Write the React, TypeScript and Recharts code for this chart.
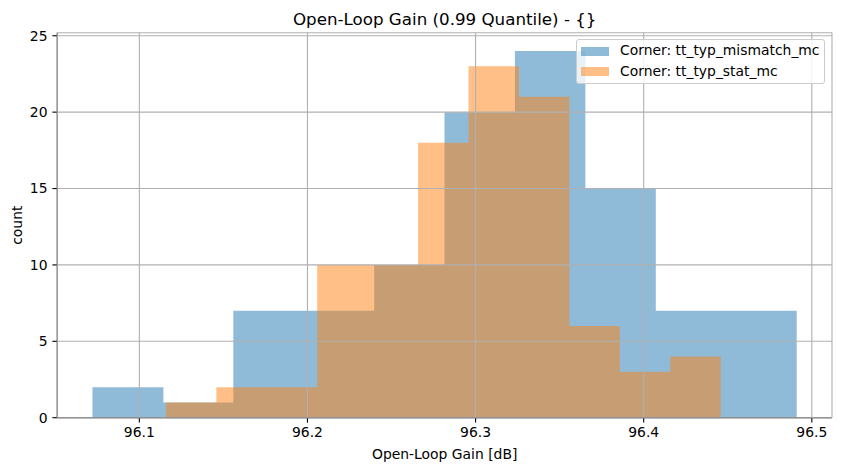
import React from 'react';
import { ComposedChart, Area, XAxis, YAxis, CartesianGrid, Legend } from 'recharts';

// Histogram bin edges (dB) and counts
const mismatchEdges = [96.0721, 96.1143, 96.1559, 96.1978, 96.2397, 96.2815, 96.3234, 96.3653, 96.4072, 96.4491, 96.491];
const mismatchCounts = [2, 1, 7, 7, 10, 20, 24, 15, 7, 7];
const statEdges = [96.1158, 96.1458, 96.1758, 96.2058, 96.2358, 96.2658, 96.2958, 96.3258, 96.3558, 96.3858, 96.4158, 96.4458];
const statCounts = [1, 2, 2, 10, 10, 18, 23, 21, 6, 3, 4];
const xTicks = [96.1, 96.2, 96.3, 96.4, 96.5];
const yTicks = [0, 5, 10, 15, 20, 25];
const seriesNames = ['Corner: tt_typ_mismatch_mc', 'Corner: tt_typ_stat_mc'];
const seriesColors = ['#1f77b4', '#ff7f0e'];
const titleText = 'Open-Loop Gain (0.99 Quantile) - {}';
const xLabel = 'Open-Loop Gain [dB]';
const yLabel = 'count';

const xDomain: [number, number] = [96.0512, 96.512];
const yDomain: [number, number] = [0, 25.2];

function toSteps(edges: number[], counts: number[]) {
  return edges.map((x, i) => ({ x, count: counts[Math.min(i, counts.length - 1)] }));
}

const mismatchData = toSteps(mismatchEdges, mismatchCounts);
const statData = toSteps(statEdges, statCounts);

const FONT = 'DejaVu Sans';
const FS = 13.9;
const LW = 1.1;

function LegendBox() {
  return (
    <div
      style={{
        position: 'relative',
        width: 249.3,
        height: 45,
        boxSizing: 'border-box',
        background: 'rgba(255,255,255,0.8)',
        border: '1px solid #cccccc',
        borderRadius: 3,
        fontFamily: FONT,
        fontSize: FS,
        lineHeight: `${FS}px`,
        color: '#000',
      }}
    >
      {seriesNames.map((name, i) => (
        <React.Fragment key={name}>
          <div
            style={{
              position: 'absolute',
              left: 4,
              top: 6.4 + i * 20.7,
              width: 28.3,
              height: 9,
              background: seriesColors[i],
              opacity: 0.5,
            }}
          />
          <div style={{ position: 'absolute', left: 43.3, top: 3.9 + i * 20.7, whiteSpace: 'nowrap' }}>{name}</div>
        </React.Fragment>
      ))}
    </div>
  );
}

export default function App() {
  return (
    <div style={{ position: 'absolute', left: 0, top: 0, width: 841, height: 470, background: '#fff' }}>
      <ComposedChart width={841} height={470} margin={{ top: 32.7, right: 9, bottom: 0, left: 0 }}>
        <XAxis
          xAxisId={0}
          type="number"
          dataKey="x"
          domain={xDomain}
          allowDataOverflow
          ticks={xTicks}
          tickFormatter={(v: number) => v.toFixed(1)}
          height={52.3}
          tickSize={4.9}
          tickMargin={4.9}
          axisLine={{ stroke: '#000', strokeWidth: LW }}
          tickLine={{ stroke: '#000', strokeWidth: LW }}
          tick={{ fill: '#000', fontSize: FS, fontFamily: FONT }}
        />
        <XAxis
          xAxisId="top"
          orientation="top"
          type="number"
          dataKey="x"
          domain={xDomain}
          allowDataOverflow
          height={0}
          tick={false}
          tickLine={false}
          axisLine={{ stroke: '#000', strokeWidth: LW }}
        />
        <YAxis
          yAxisId={0}
          type="number"
          domain={yDomain}
          allowDataOverflow
          ticks={yTicks}
          width={57.3}
          tickSize={4.9}
          tickMargin={4.9}
          axisLine={{ stroke: '#000', strokeWidth: LW }}
          tickLine={{ stroke: '#000', strokeWidth: LW }}
          tick={{ fill: '#000', fontSize: FS, fontFamily: FONT }}
        />
        <YAxis
          yAxisId="right"
          orientation="right"
          type="number"
          domain={yDomain}
          allowDataOverflow
          width={0}
          tick={false}
          tickLine={false}
          axisLine={{ stroke: '#000', strokeWidth: LW }}
        />
        <Area
          data={mismatchData}
          dataKey="count"
          name={seriesNames[0]}
          type="stepAfter"
          xAxisId={0}
          yAxisId={0}
          fill={seriesColors[0]}
          fillOpacity={0.5}
          stroke="none"
          dot={false}
          activeDot={false}
          isAnimationActive={false}
        />
        <Area
          data={statData}
          dataKey="count"
          name={seriesNames[1]}
          type="stepAfter"
          xAxisId={0}
          yAxisId={0}
          fill={seriesColors[1]}
          fillOpacity={0.5}
          stroke="none"
          dot={false}
          activeDot={false}
          isAnimationActive={false}
        />
        <CartesianGrid
          xAxisId={0}
          yAxisId={0}
          stroke="#b0b0b0"
          strokeWidth={LW}
          {...({ zIndex: 500 } as any)}
        />
        <Legend
          layout="vertical"
          align="center"
          verticalAlign="middle"
          content={() => <LegendBox />}
          wrapperStyle={{ position: 'absolute', left: 575.7, top: 39.3, width: 249.3, height: 45 }}
        />
      </ComposedChart>
      <svg
        width={841}
        height={470}
        style={{ position: 'absolute', left: 0, top: 0, pointerEvents: 'none' }}
      >
        <text x={444.7} y={25} textAnchor="middle" fontFamily={FONT} fontSize={16.7} fill="#000">
          {titleText}
        </text>
        <text x={444.7} y={459.3} textAnchor="middle" fontFamily={FONT} fontSize={FS} fill="#000">
          {xLabel}
        </text>
        <text
          transform="translate(21.6,225.2) rotate(-90)"
          textAnchor="middle"
          fontFamily={FONT}
          fontSize={FS}
          fill="#000"
        >
          {yLabel}
        </text>
      </svg>
    </div>
  );
}
